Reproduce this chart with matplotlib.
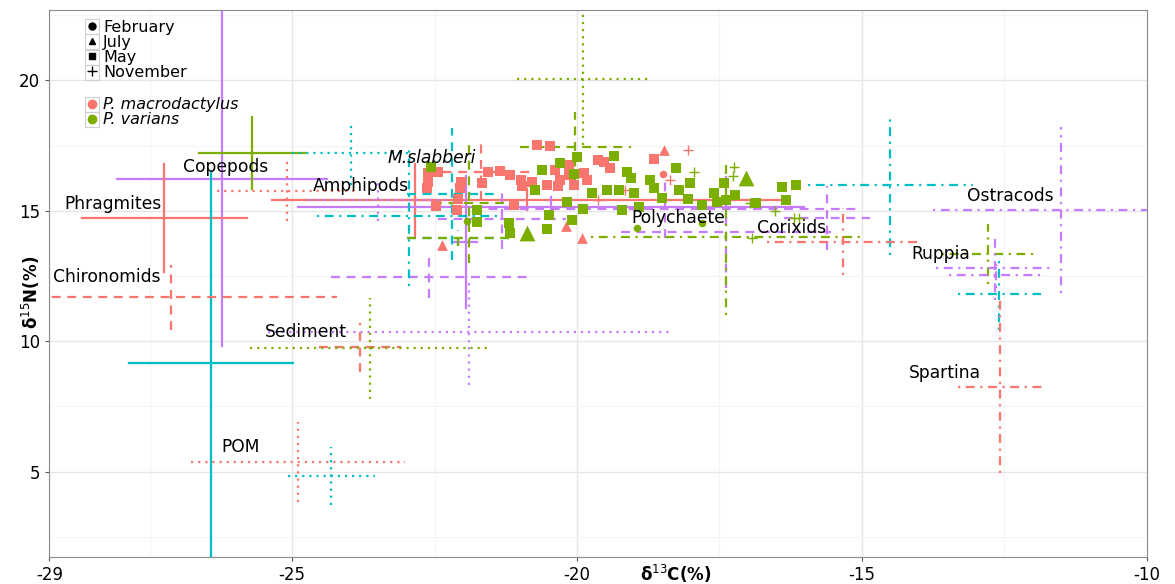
import matplotlib.pyplot as plt
from matplotlib.lines import Line2D
from matplotlib.patches import Rectangle

# month colours (ggplot default hues)
month_col = {"February": "#F8766D", "July": "#7CAE00", "May": "#00BFC4", "November": "#C77CFF"}
ls_map = {"solid": "-", "dashed": (0, (4, 3)), "dotted": (0, (1, 2.2)), "dotdash": (0, (1, 2.5, 4, 2.5))}

# ---- sources: mean +/- sd (one entry per source x month) ----
src_month = []
src_type = []
src_x = []
src_xsd = []
src_y = []
src_ysd = []


def add_src(month, ltype, x, xsd, y, ysd):
    src_month.append(month)
    src_type.append(ltype)
    src_x.append(x)
    src_xsd.append(xsd)
    src_y.append(y)
    src_ysd.append(ysd)


# solid
add_src("November", "solid", -26.23, 1.85, 16.23, 6.42)
add_src("July", "solid", -25.71, 0.93, 17.20, 1.38)
add_src("February", "solid", -27.24, 1.45, 14.72, 2.07)
add_src("May", "solid", -26.43, 1.44, 9.15, 7.38)
add_src("February", "solid", -20.87, 4.49, 15.43, 0.40)
add_src("February", "solid", -22.85, 0.30, 15.43, 1.38)
add_src("November", "solid", -20.46, 4.44, 15.14, 0.40)
add_src("November", "solid", -21.95, 0.20, 13.80, 2.53)
# dashed
add_src("February", "dashed", -27.12, 2.91, 11.69, 1.25)
add_src("February", "dashed", -23.80, 0.72, 9.76, 0.94)
add_src("November", "dashed", -22.59, 1.72, 12.46, 0.81)
add_src("July", "dashed", -20.03, 0.97, 17.45, 1.34)
add_src("May", "dashed", -22.19, 0.79, 15.64, 2.53)
add_src("May", "dashed", -22.08, 0.90, 13.95, 0.30)
add_src("July", "dashed", -22.08, 0.90, 13.95, 0.30)
add_src("February", "dashed", -21.69, 0.95, 16.50, 1.10)
add_src("July", "dashed", -21.90, 0.62, 15.30, 2.30)
add_src("November", "dashed", -21.32, 1.12, 14.68, 1.15)
add_src("November", "dashed", -17.39, 1.84, 14.18, 2.15)
add_src("November", "dashed", -18.45, 3.37, 15.05, 1.09)
add_src("November", "dashed", -15.61, 0.76, 14.72, 1.23)
# dotted
add_src("July", "dotted", -23.64, 2.09, 9.72, 1.94)
add_src("November", "dotted", -21.90, 3.53, 10.35, 2.03)
add_src("February", "dotted", -24.89, 1.88, 5.38, 1.53)
add_src("May", "dotted", -24.31, 0.77, 4.83, 1.13)
add_src("July", "dotted", -19.90, 1.16, 20.04, 2.53)
add_src("May", "dotted", -23.96, 1.05, 17.21, 1.23)
add_src("February", "dotted", -25.09, 1.23, 15.76, 1.15)
add_src("November", "dotted", -23.50, 1.20, 15.41, 0.79)
# dot-dash
add_src("May", "dotdash", -22.95, 1.62, 14.80, 2.68)
add_src("May", "dotdash", -14.50, 1.45, 15.99, 2.68)
add_src("February", "dotdash", -15.33, 1.34, 13.81, 1.28)
add_src("July", "dotdash", -17.39, 2.37, 13.98, 2.97)
add_src("November", "dotdash", -11.51, 2.25, 15.03, 3.18)
add_src("July", "dotdash", -12.78, 0.82, 13.33, 1.15)
add_src("November", "dotdash", -12.66, 1.04, 12.81, 1.23)
add_src("November", "dotdash", -12.64, 0.84, 12.55, 0.50)
add_src("May", "dotdash", -12.59, 0.73, 11.79, 1.38)
add_src("February", "dotdash", -12.57, 0.74, 8.25, 3.32)

labels = ["Copepods", "Phragmites", "Chironomids", "Amphipods", "M.slabberi", "Sediment",
          "POM", "Polychaete", "Corixids", "Ostracods", "Ruppia", "Spartina"]
lab_x = [-26.17, -28.14, -28.26, -23.80, -22.55, -24.75, -25.91, -18.23, -16.23, -12.40, -13.62, -13.54]
lab_y = [16.68, 15.26, 12.46, 15.95, 17.02, 10.35, 5.94, 14.72, 14.34, 15.56, 13.34, 8.78]

# ---- consumers ----
species_col = {"P. macrodactylus": "#F8766D", "P. varians": "#7CAE00"}
month_marker = {"February": "o", "July": "^", "May": "s", "November": "+"}

# P. macrodactylus
pm_may_x = [-20.71, -20.48, -19.64, -19.52, -19.42, -18.64, -22.61, -22.64, -22.44, -22.04, -22.06, -21.66,
            -21.57, -21.35, -21.17, -20.98, -20.96, -20.79, -20.52, -20.34, -20.39, -20.14, -20.14, -19.88,
            -19.82, -22.48, -22.10, -21.10, -22.08, -22.61, -20.29, -20.06]
pm_may_y = [17.52, 17.49, 16.94, 16.88, 16.63, 16.98, 16.11, 15.86, 16.50, 16.11, 15.86, 16.05,
            16.50, 16.53, 16.37, 16.18, 15.95, 16.11, 15.99, 15.96, 16.56, 16.75, 16.37, 16.46,
            16.18, 15.18, 15.03, 15.22, 15.45, 16.45, 16.18, 15.99]
pm_jul_x = [-22.37, -20.20, -19.91, -18.48]
pm_jul_y = [13.68, 14.41, 13.94, 17.33]
pm_nov_x = [-18.06, -19.15, -19.64, -18.37]
pm_nov_y = [17.35, 15.79, 15.41, 16.18]
pm_feb_x = [-18.49]
pm_feb_y = [16.41]

# P. varians
pv_may_x = [-22.57, -20.61, -20.29, -20.00, -19.35, -20.06, -20.73, -21.20, -21.17, -20.52, -20.08, -19.89,
            -20.17, -21.76, -21.76, -19.12, -19.06, -18.71, -18.65, -18.27, -18.21, -18.01, -18.50, -18.06,
            -17.80, -17.60, -17.42, -17.22, -19.73, -19.47, -19.27, -19.21, -19.00, -17.55, -17.39, -16.40,
            -16.15, -16.34, -16.85, -18.91, -20.50]
pv_may_y = [16.69, 16.56, 16.82, 17.07, 17.10, 16.43, 15.79, 14.54, 14.13, 14.30, 14.64, 15.05,
            15.35, 15.03, 14.57, 16.50, 16.24, 16.18, 15.86, 16.63, 15.79, 16.05, 15.48, 15.44,
            15.22, 15.67, 16.05, 15.60, 15.69, 15.79, 15.79, 15.03, 15.67, 15.35, 15.41, 15.92,
            15.99, 15.41, 15.31, 15.15, 14.84]
pv_jul_x = [-20.87, -17.03]
pv_jul_y = [14.14, 16.25]
pv_nov_x = [-17.95, -17.26, -17.25, -16.97, -16.53, -16.19, -16.10, -16.92]
pv_nov_y = [16.50, 16.33, 16.69, 15.31, 14.99, 14.71, 14.71, 13.96]
pv_feb_x = [-21.93, -18.94, -17.80]
pv_feb_y = [14.62, 14.33, 14.54]

consumers = [
    ("P. macrodactylus", "May", pm_may_x, pm_may_y),
    ("P. macrodactylus", "July", pm_jul_x, pm_jul_y),
    ("P. macrodactylus", "November", pm_nov_x, pm_nov_y),
    ("P. macrodactylus", "February", pm_feb_x, pm_feb_y),
    ("P. varians", "May", pv_may_x, pv_may_y),
    ("P. varians", "July", pv_jul_x, pv_jul_y),
    ("P. varians", "November", pv_nov_x, pv_nov_y),
    ("P. varians", "February", pv_feb_x, pv_feb_y),
]

fig = plt.figure(figsize=(11.75, 5.84), dpi=100)
ax = fig.add_axes([0.042, 0.0457, 0.934, 0.938])

for m, t, x, xs, y, ys in zip(src_month, src_type, src_x, src_xsd, src_y, src_ysd):
    ax.plot([x - xs, x + xs], [y, y], color=month_col[m], linestyle=ls_map[t], lw=1.6)
    ax.plot([x, x], [y - ys, y + ys], color=month_col[m], linestyle=ls_map[t], lw=1.6)

for sp, m, xs, ys in consumers:
    mk = month_marker[m]
    if mk == "+":
        ax.scatter(xs, ys, marker="+", s=50, color=species_col[sp], linewidths=1.0, zorder=3)
    else:
        sz = {"o": 30, "^": 60, "s": 55}[mk]
        if sp == "P. varians" and m == "July":
            sz = 130
        ax.scatter(xs, ys, marker=mk, s=sz, color=species_col[sp], linewidths=0, zorder=3)

for lab, x, y in zip(labels, lab_x, lab_y):
    ax.text(x, y, lab, fontsize=12.3, ha="center", va="center",
            fontstyle="italic" if lab == "M.slabberi" else "normal", zorder=4)

ax.set_xlim(-29.26, -10)
ax.set_ylim(1.71, 22.72)
ax.set_xticks([-29.26, -25, -20, -15, -10])
ax.set_xticklabels(["-29", "-25", "-20", "-15", "-10"])
ax.set_xticks([-27.5, -22.5, -17.5, -12.5], minor=True)
ax.set_yticks([5, 10, 15, 20])
ax.set_yticks([2.5, 7.5, 12.5, 17.5, 22.5], minor=True)
ax.tick_params(labelsize=12, length=3, color="#555555")
ax.tick_params(which="minor", length=0)
ax.grid(True, which="major", color="#E6E6E6", lw=1.0)
ax.grid(True, which="minor", color="#F4F4F4", lw=0.8)
ax.set_axisbelow(True)
for s in ax.spines.values():
    s.set_color("#8C8C8C")

fig.text(0.575, 0.018, "δ$^{13}$C(%)", fontsize=12, fontweight="bold", ha="center", va="center")
fig.text(0.026, 0.50, "δ$^{15}$N(%)", fontsize=12, fontweight="bold", ha="center", va="center", rotation=90)

# legend key boxes like ggplot
for i in range(4):
    fig.add_artist(Rectangle((85 / 1175, 1 - (34 + 15.3 * i) / 584), 14 / 1175, 15 / 584,
                             transform=fig.transFigure, fill=False, ec="#D0D0D0", lw=0.8))
for i in range(2):
    fig.add_artist(Rectangle((85 / 1175, 1 - (112 + 15.3 * i) / 584), 14 / 1175, 15 / 584,
                             transform=fig.transFigure, fill=False, ec="#D0D0D0", lw=0.8))

h1 = [Line2D([], [], marker=month_marker[m], color="black", linestyle="None",
             markersize=5 if m != "November" else 7) for m in month_marker]
leg1 = ax.legend(h1, list(month_marker), loc="upper left", bbox_to_anchor=(0.023, 1.002), frameon=False,
                 fontsize=11.5, handlelength=0.8, handletextpad=0.3, labelspacing=0.0, borderpad=0.2)
ax.add_artist(leg1)
h2 = [Line2D([], [], marker="o", color=c, linestyle="None", markersize=6) for c in species_col.values()]
leg2 = ax.legend(h2, list(species_col), loc="upper left", bbox_to_anchor=(0.023, 0.860), frameon=False,
                 handlelength=0.8, handletextpad=0.3, labelspacing=0.0, borderpad=0.2,
                 prop={"style": "italic", "size": 11.5})

fig.savefig("out.png", dpi=100)
